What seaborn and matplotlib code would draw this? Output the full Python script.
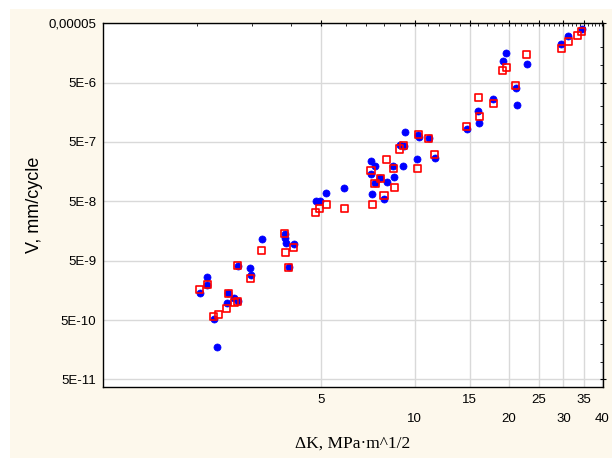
import numpy as np
import pandas as pd
import matplotlib
matplotlib.use("Agg")
import matplotlib.pyplot as plt
import seaborn as sns
from matplotlib.patches import Rectangle
from matplotlib.ticker import FixedLocator, NullFormatter

# blue points (dK, V)
dk_blue = [2.04, 2.16, 2.16, 2.27, 2.33, 2.50, 2.52, 2.64, 2.71, 2.71, 2.96, 2.99,
           3.23, 3.84, 3.85, 3.86, 4.10, 3.94, 4.84, 4.96, 5.20, 5.94,
           7.25, 7.47, 7.25, 7.75, 7.46, 8.13, 8.61, 8.53, 9.20, 7.32, 7.97,
           9.28, 8.95, 9.22, 10.26, 10.3, 11.1, 10.2, 11.6,
           14.7, 16.0, 16.1, 17.9, 21.1, 21.3, 19.7, 19.2, 23.0, 29.5, 31.1, 34.3]
v_blue = [1.45e-9, 2.64e-9, 1.95e-9, 5.2e-10, 1.76e-10, 9.8e-10, 1.42e-9, 1.19e-9, 1.03e-9, 4.08e-9, 3.74e-9, 2.88e-9,
          1.17e-8, 1.42e-8, 1.19e-8, 9.9e-9, 9.6e-9, 3.85e-9, 5.1e-8, 5.1e-8, 6.9e-8, 8.4e-8,
          2.41e-7, 1.98e-7, 1.45e-7, 1.23e-7, 1.01e-7, 1.04e-7, 1.27e-7, 1.98e-7, 1.98e-7, 6.6e-8, 5.5e-8,
          7.3e-7, 4.5e-7, 4.3e-7, 6.6e-7, 6.0e-7, 5.8e-7, 2.55e-7, 2.68e-7,
          8.2e-7, 1.65e-6, 1.04e-6, 2.68e-6, 4.0e-6, 2.08e-6, 1.57e-5, 1.15e-5, 1.04e-5, 2.24e-5, 3.0e-5, 4.05e-5]

# red points (dK, V)
dk_red = [2.04, 2.16, 2.26, 2.34, 2.49, 2.52, 2.64, 2.71, 2.71, 2.97,
          3.23, 3.83, 3.86, 4.09, 3.94, 4.82, 4.96, 5.20, 5.94,
          7.24, 7.75, 7.46, 8.13, 8.53, 8.61, 7.32, 7.97, 8.95, 9.22,
          10.26, 11.1, 10.2, 11.6, 14.7, 16.0, 16.1, 17.9, 21.1, 19.1, 19.7, 22.9,
          29.5, 31.1, 33.2, 34.3]
v_red = [1.61e-9, 1.95e-9, 5.75e-10, 6.2e-10, 7.9e-10, 1.42e-9, 9.8e-10, 1.03e-9, 4.08e-9, 2.53e-9,
         7.5e-9, 1.45e-8, 6.8e-9, 8.4e-9, 3.85e-9, 3.24e-8, 3.77e-8, 4.4e-8, 3.77e-8,
         1.65e-7, 1.23e-7, 1.01e-7, 2.55e-7, 1.79e-7, 8.4e-8, 4.4e-8, 6.2e-8, 3.8e-7, 4.35e-7,
         6.6e-7, 5.8e-7, 1.79e-7, 3.1e-7, 9.0e-7, 2.81e-6, 1.35e-6, 2.2e-6, 4.47e-6, 8.1e-6, 8.9e-6, 1.49e-5,
         1.89e-5, 2.45e-5, 3.15e-5, 3.64e-5]

x_ticks = [5, 10, 15, 20, 25, 30, 35, 40]
x_labels = ["5", "\n10", "15", "\n20", "25", "\n30", "35", "\n40"]
y_ticks = [5e-11, 5e-10, 5e-9, 5e-8, 5e-7, 5e-6, 5e-5]
y_labels = ["5E-11", "5E-10", "5E-9", "5E-8", "5E-7", "5E-6", "0,00005"]

sns.set_theme(style="white")
plt.rcParams["font.family"] = ["Liberation Sans", "DejaVu Sans"]

blue = pd.DataFrame({"dK": dk_blue, "V": v_blue})
red = pd.DataFrame({"dK": dk_red, "V": v_red})

fig = plt.figure(figsize=(6.12, 4.58), dpi=100)
fig.patch.set_facecolor("white")
fig.patches.append(Rectangle((10 / 612, 0), 1, 1 - 9 / 458, transform=fig.transFigure,
                             facecolor="#fdf8ec", edgecolor="none", zorder=-1))
ax = fig.add_axes([103 / 612, 1 - 387 / 458, 500 / 612, 364 / 458])
ax.set_facecolor("white")

sns.scatterplot(data=blue, x="dK", y="V", ax=ax, marker="o", color="#0000ff",
                edgecolor="#0000ff", s=26, linewidth=0.5, zorder=3)
sns.scatterplot(data=red, x="dK", y="V", ax=ax, marker="s", color="none",
                edgecolor="#ff0000", s=26, linewidth=1.2, zorder=4)

ax.set_xscale("log")
ax.set_yscale("log")
ax.set_xlim(1.0, 40.2)
ax.set_ylim(3.72e-11, 5.05e-5)

ax.xaxis.set_major_locator(FixedLocator(x_ticks))
ax.set_xticklabels(x_labels, linespacing=1.75)
ax.xaxis.set_minor_locator(FixedLocator([v for v in range(1, 41) if v not in x_ticks]))
ax.xaxis.set_minor_formatter(NullFormatter())

ax.yaxis.set_major_locator(FixedLocator(y_ticks))
ax.set_yticklabels(y_labels)
ax.yaxis.set_minor_locator(FixedLocator([m * 10.0 ** e for e in range(-11, -4) for m in (1, 2)]))
ax.yaxis.set_minor_formatter(NullFormatter())

ax.grid(True, which="major", color="#d9d9d9", linewidth=1.0)
ax.set_axisbelow(True)
for s in ax.spines.values():
    s.set_color("black")
    s.set_linewidth(1.0)

ax.tick_params(which="major", direction="inout", length=4, width=0.8, colors="black",
               labelsize=9.5, top=True, right=True, pad=3)
ax.tick_params(which="minor", direction="in", length=2.5, width=0.6, colors="black",
               top=True, right=True)

ax.set_xlabel("ΔK, MPa·m^1/2", family=["Liberation Serif", "DejaVu Serif"], fontsize=12.5,
              color="black", labelpad=8)
ax.set_ylabel("V, mm/cycle", fontsize=13, color="black", labelpad=4)

fig.savefig("out.png", dpi=100, facecolor=fig.get_facecolor())
